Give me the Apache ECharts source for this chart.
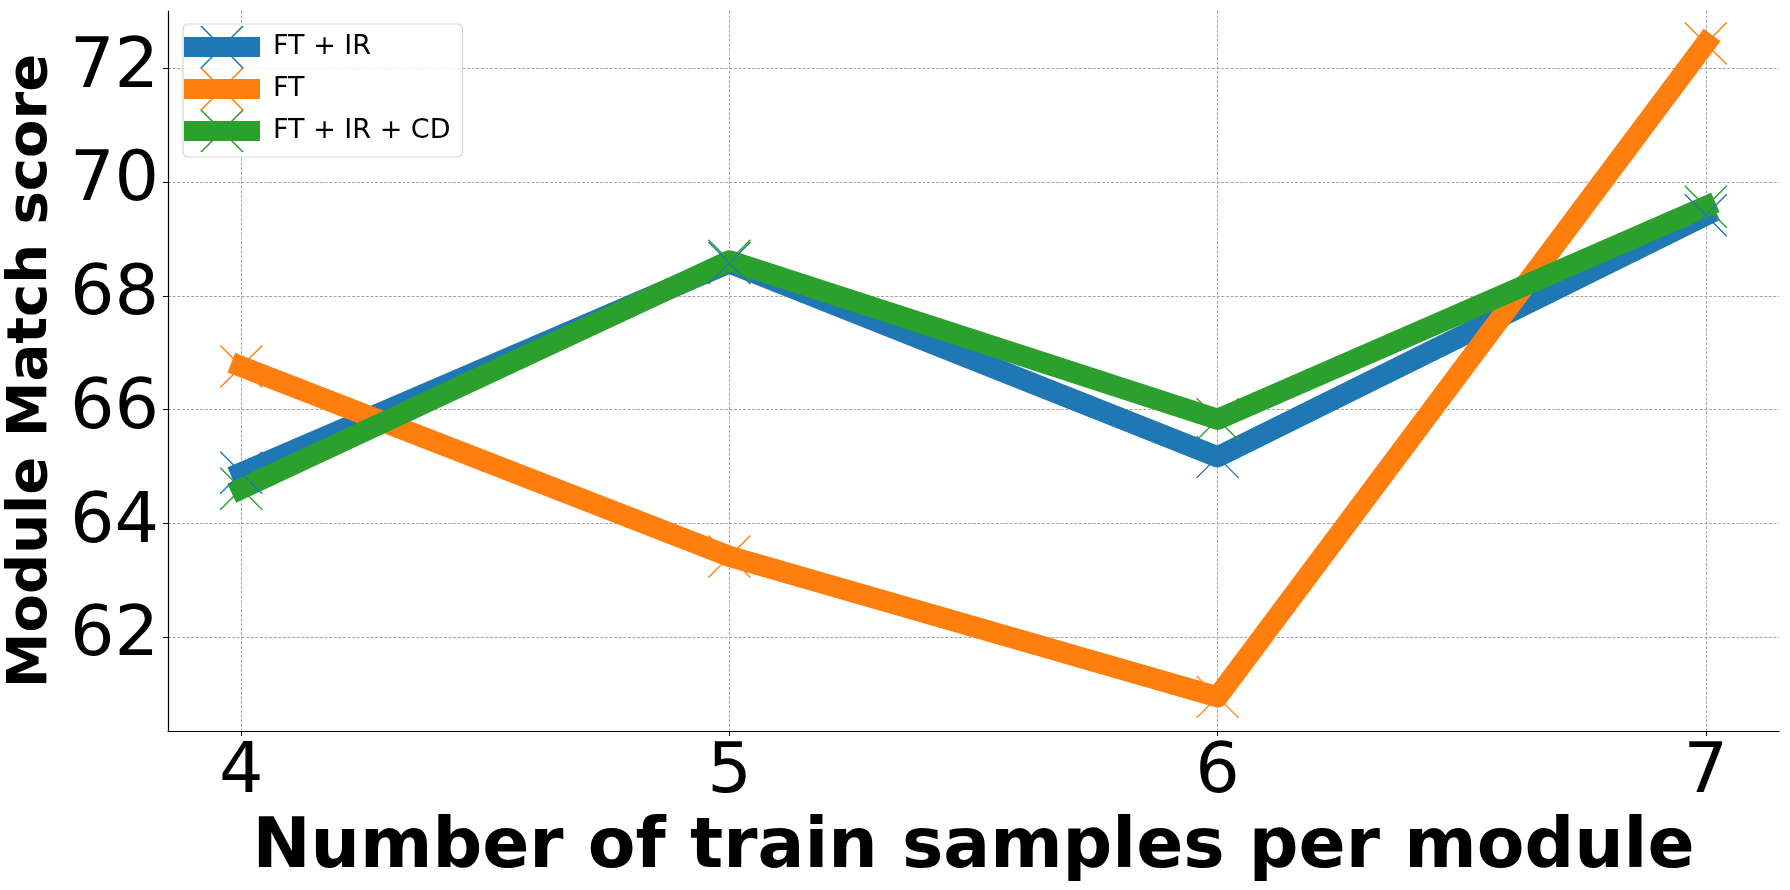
<!DOCTYPE html>
<html>
<head>
<meta charset="utf-8">
<script src="https://cdn.jsdelivr.net/npm/echarts@6/dist/echarts.min.js"></script>
<style>
  html, body { margin: 0; padding: 0; background: #fff; }
  #main { width: 1790px; height: 890px; }
</style>
</head>
<body>
<div id="main"></div>
<script>
// number of train samples per module
const xValues = [4, 5, 6, 7];
const xTicks = [4, 5, 6, 7];
const yTicks = [62, 64, 66, 68, 70, 72];

const seriesNames = ['FT + IR', 'FT', 'FT + IR + CD'];
const ftIr = [64.89, 68.58, 65.17, 69.42];
const ft = [66.76, 63.42, 60.95, 72.44];
const ftIrCd = [64.61, 68.62, 65.83, 69.57];
const colors = ['#1f77b4', '#ff7f0e', '#2ca02c'];

// legend handle: thick bar with a thin x marker on top
const legendIcon = 'path://M0,11L76,11L76,31L0,31Z' +
  'M16,0L18.1,0L60,42L57.9,42Z' +
  'M57.9,0L60,0L18.1,42L16,42Z';

function pairs(ys) {
  return xValues.map((x, i) => [x, ys[i]]);
}

const chart = echarts.init(document.getElementById('main'));

const allSeries = [ftIr, ft, ftIrCd].map((ys, i) => ({
  name: seriesNames[i],
  type: 'line',
  data: pairs(ys),
  symbol: 'path://M0,0L10,10M10,0L0,10',
  symbolSize: 42,
  showAllSymbol: true,
  lineStyle: { color: colors[i], width: 21, cap: 'square', join: 'round' },
  itemStyle: { color: 'rgba(0,0,0,0)', borderColor: colors[i], borderWidth: 1.4 },
  emphasis: { disabled: true },
  animation: false
}));

chart.setOption({
  animation: false,
  grid: { left: 168, right: 11, top: 11, bottom: 159, containLabel: false, outerBoundsMode: 'none' },
  legend: {
    orient: 'vertical',
    left: 183,
    top: 24,
    padding: [2, 12, 5, 1],
    itemGap: 0,
    itemWidth: 76,
    itemHeight: 42,
    backgroundColor: 'rgba(255,255,255,0.8)',
    borderColor: '#d6d6d6',
    borderWidth: 1.2,
    borderRadius: 5,
    textStyle: { fontFamily: 'DejaVu Sans', fontSize: 27, color: '#000', padding: [0, 0, 0, 8] },
    data: seriesNames.map((n, i) => ({
      name: n,
      icon: legendIcon,
      itemStyle: { color: colors[i], borderWidth: 0 }
    }))
  },
  xAxis: {
    type: 'value',
    min: 3.85,
    max: 7.15,
    name: 'Number of train samples per module',
    nameLocation: 'middle',
    nameGap: 72,
    nameTextStyle: { fontFamily: 'DejaVu Sans', fontWeight: 'bold', fontSize: 69.5, color: '#000' },
    axisLine: { show: true, lineStyle: { color: '#000', width: 1.2 } },
    axisTick: { show: true, length: 5, customValues: xTicks, lineStyle: { color: '#000' } },
    axisLabel: { customValues: xTicks, fontFamily: 'DejaVu Sans', fontSize: 70, color: '#000', margin: 8 },
    splitLine: { show: true, lineStyle: { color: '#a6a6a6', width: 1, type: [3, 1.6] } }
  },
  yAxis: {
    type: 'value',
    min: 60.35,
    max: 73.01,
    name: 'Module Match score',
    nameLocation: 'middle',
    nameGap: 96,
    nameTextStyle: { fontFamily: 'DejaVu Sans', fontWeight: 'bold', fontSize: 56, color: '#000' },
    axisLine: { show: true, lineStyle: { color: '#000', width: 1.2 } },
    axisTick: { show: true, length: 5, customValues: yTicks, lineStyle: { color: '#000' } },
    axisLabel: { customValues: yTicks, fontFamily: 'DejaVu Sans', fontSize: 70, color: '#000', margin: 9 },
    splitLine: { show: true, lineStyle: { color: '#a6a6a6', width: 1, type: [3, 1.6] } }
  },
  series: allSeries
});
</script>
</body>
</html>
